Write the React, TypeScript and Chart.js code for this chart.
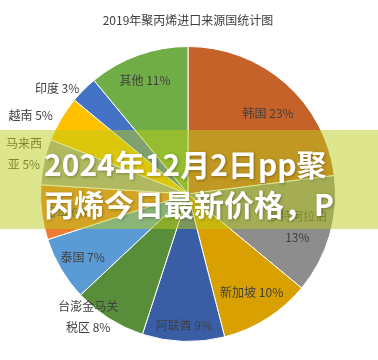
import React, { useEffect, useRef } from "react";
import { Chart, registerables } from "chart.js";

Chart.register(...registerables);

const chartTitle = "2019年聚丙烯进口来源国统计图";
const categories = ["韩国", "沙特阿拉伯", "新加坡", "阿联酋", "台澎金马关税区", "泰国", "日本", "马来西亚", "越南", "印度", "其他"];
const shares = [23, 13, 10, 9, 8, 7, 6, 5, 5, 3, 11];
const labelLines = [
  ["韩国 23%"],
  ["沙特阿拉伯", "13%"],
  ["新加坡 10%"],
  ["阿联酋 9%"],
  ["台澎金马关", "税区 8%"],
  ["泰国 7%"],
  ["日本 6%"],
  ["马来西", "亚 5%"],
  ["越南 5%"],
  ["印度 3%"],
  ["其他 11%"],
];
const bannerLines = ["2024年12月2日pp聚", "丙烯今日最新价格，P"];

const sliceColors = ["#C5622A", "#8D8D8D", "#D8A000", "#3A5EA5", "#588E3A", "#5B9BD5", "#ED7D31", "#A5A5A5", "#FFC000", "#4472C4", "#70AD47"];
// label placement: [radius factor, dx, dy]
const labelPlace = [
  [0.76, 6, 4],
  [0.8, -4, 0],
  [0.78, 2, 1],
  [0.89, 0, 0],
  [1.06, -16, -9],
  [0.83, 0, 1],
  [0.82, -1, 3],
  [1.14, 0, -3],
  [1.2, -5, 12],
  [1.14, -12, 13],
  [0.82, -2, 0],
];

const labelPlugin = {
  id: "sliceLabels",
  afterDatasetsDraw(chart: any) {
    const ctx = chart.ctx;
    const meta = chart.getDatasetMeta(0);
    ctx.save();
    ctx.font = '12px "Noto Sans CJK SC", "Noto Sans", sans-serif';
    ctx.fillStyle = "#404040";
    ctx.textAlign = "center";
    ctx.textBaseline = "middle";
    meta.data.forEach((arc: any, i: number) => {
      const p = arc.getProps(["x", "y", "startAngle", "endAngle", "outerRadius"], true);
      const mid = (p.startAngle + p.endAngle) / 2;
      const [f, dx, dy] = labelPlace[i];
      const cx = p.x + Math.cos(mid) * p.outerRadius * f + dx;
      const cy = p.y + Math.sin(mid) * p.outerRadius * f + dy;
      const lines = labelLines[i];
      const lh = 21;
      lines.forEach((t, k) => {
        ctx.fillText(t, cx, cy + (k - (lines.length - 1) / 2) * lh);
      });
    });
    ctx.restore();
  },
};

export default function App() {
  const ref = useRef<HTMLCanvasElement>(null);
  useEffect(() => {
    if (!ref.current) return;
    const chart = new Chart(ref.current, {
      type: "pie",
      data: {
        labels: categories,
        datasets: [
          {
            data: shares,
            backgroundColor: sliceColors,
            borderColor: "#ffffff",
            borderWidth: 1,
          },
        ],
      },
      options: {
        animation: false,
        responsive: false,
        maintainAspectRatio: false,
        layout: { padding: { left: 40, right: 42, top: 0, bottom: 18 } },
        plugins: {
          legend: { display: false },
          tooltip: { enabled: false },
          title: {
            display: true,
            text: chartTitle,
            color: "#404040",
            font: { size: 12, family: '"Noto Sans CJK SC", "Noto Sans", sans-serif', weight: "normal" },
            padding: { top: 13, bottom: 18.6 },
          },
        },
      },
      plugins: [labelPlugin],
    });
    return () => chart.destroy();
  }, []);

  return (
    <div style={{ position: "fixed", left: 0, top: 0, width: 378, height: 360, background: "#fff", overflow: "hidden" }}>
      <canvas ref={ref} width={378} height={360} style={{ position: "absolute", left: 0, top: 0 }} />
      <div
        style={{
          position: "absolute",
          left: 0,
          top: 130,
          width: 378,
          height: 99,
          background: "rgba(187,205,25,0.5)",
        }}
      />
      <div
        style={{
          position: "absolute",
          left: 44,
          top: 143,
          width: 320,
          color: "#ffffff",
          fontFamily: '"Noto Sans CJK SC", "Noto Sans", sans-serif',
          fontWeight: 700,
          fontSize: 30,
          lineHeight: "40px",
          whiteSpace: "nowrap",
          textShadow: "1px 1px 3px rgba(0,0,0,0.3)",
        }}
      >
        {bannerLines.map((t, i) => (
          <div key={i}>{t}</div>
        ))}
      </div>
    </div>
  );
}
